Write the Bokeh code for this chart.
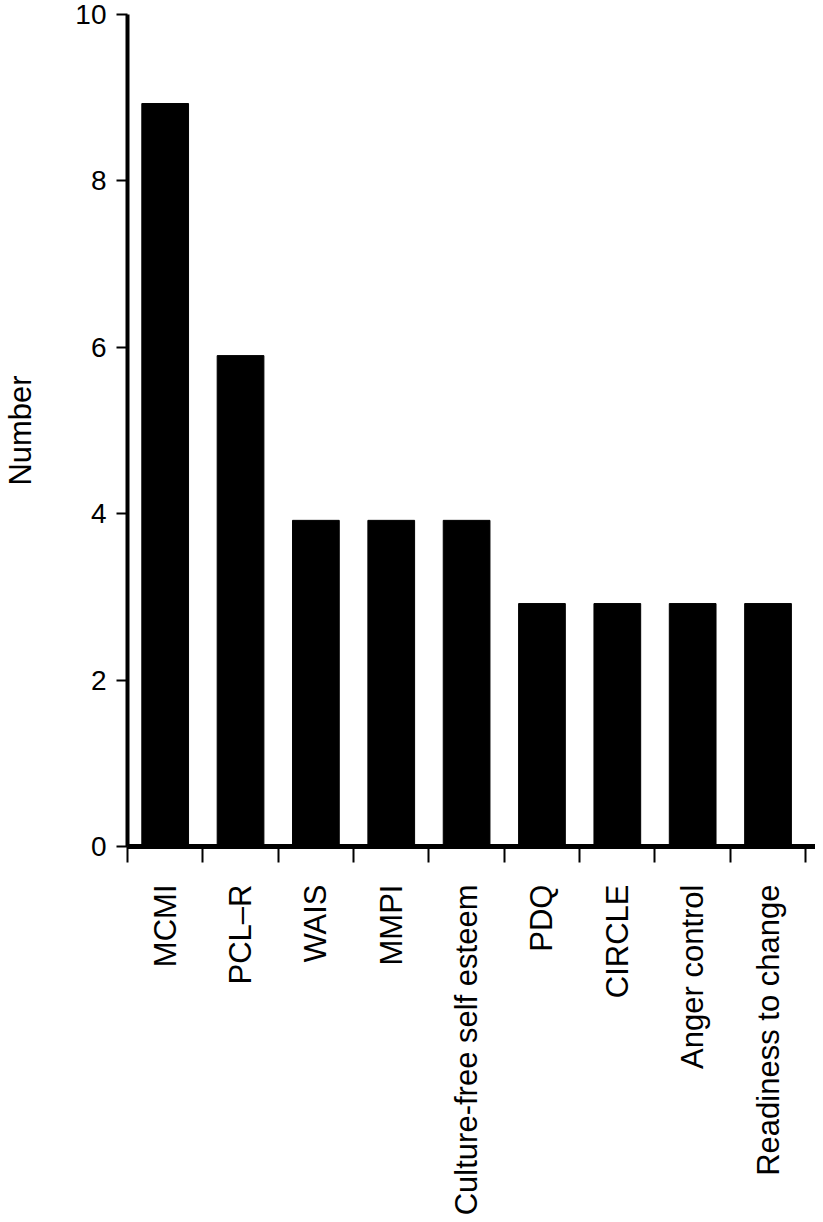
import math
from bokeh.plotting import figure
from bokeh.models import FixedTicker, Range1d, ColumnDataSource
from bokeh.embed import file_html
from bokeh.resources import INLINE

categories = ["MCMI", "PCL\u2013R", "WAIS", "MMPI", "Culture-free self esteem",
              "PDQ", "CIRCLE", "Anger control", "Readiness to change"]
values = [8.93, 5.9, 3.92, 3.92, 3.92, 2.92, 2.92, 2.92, 2.92]
y_ticks = [0, 2, 4, 6, 8, 10]

centers = [i + 0.5 for i in range(len(categories))]
boundaries = list(range(len(categories) + 1))

FONT = "Liberation Sans"

p = figure(width=815, height=1218, output_backend="svg",
           toolbar_location=None, x_range=Range1d(0, 9.13), y_range=Range1d(0, 10),
           min_border_left=122, min_border_right=0, min_border_top=14, min_border_bottom=0)
p.outline_line_color = None
p.grid.visible = False
p.background_fill_color = "white"
p.border_fill_color = "white"

src = ColumnDataSource(dict(x=centers, top=values))
p.vbar(x="x", top="top", bottom=0, width=0.62, source=src,
       fill_color="black", line_color="black", line_width=1)

xa = p.xaxis[0]
xa.ticker = FixedTicker(ticks=centers, minor_ticks=boundaries)
xa.major_label_overrides = {c: lab for c, lab in zip(centers, categories)}
xa.major_tick_out = 0
xa.major_tick_in = 0
xa.minor_tick_out = 16
xa.minor_tick_in = 0
xa.minor_tick_line_width = 2
xa.minor_tick_line_color = "black"
xa.axis_line_width = 5
xa.axis_line_color = "black"
xa.major_label_orientation = math.pi / 2
xa.major_label_standoff = 22
xa.major_label_text_font = FONT
xa.major_label_text_font_size = "31px"
xa.major_label_text_color = "black"

ya = p.yaxis[0]
ya.ticker = FixedTicker(ticks=y_ticks)
ya.major_tick_out = 11
ya.major_tick_in = 0
ya.major_tick_line_width = 2
ya.major_tick_line_color = "black"
ya.minor_tick_line_color = None
ya.axis_line_width = 4
ya.axis_line_color = "black"
ya.major_label_standoff = 10
ya.major_label_text_font = FONT
ya.major_label_text_font_size = "28px"
ya.major_label_text_color = "black"
ya.axis_label = "Number"
ya.axis_label_text_font = FONT
ya.axis_label_text_font_size = "31px"
ya.axis_label_text_font_style = "normal"
ya.axis_label_text_color = "black"
ya.axis_label_standoff = 34

open("out.html", "w").write(file_html(p, INLINE))
